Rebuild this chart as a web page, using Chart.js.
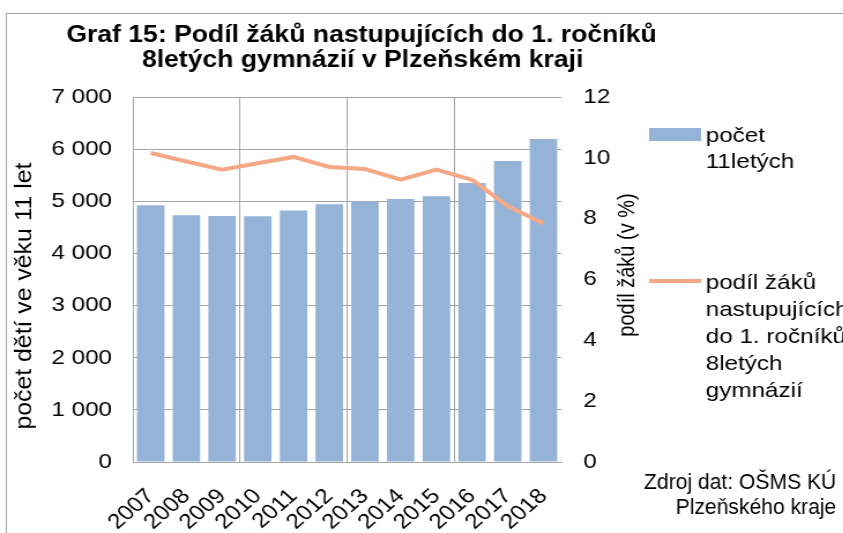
<!DOCTYPE html>
<html>
<head>
<meta charset="utf-8">
<script src="https://cdn.jsdelivr.net/npm/chart.js@4"></script>
<style>
  body { margin: 0; background: #fff; overflow: hidden; }
  #wrap { width: 730px; height: 533px; transform: scaleX(1.155); transform-origin: 0 0; }
  canvas { display: block; }
</style>
</head>
<body>
<div id="wrap"><canvas id="chart" width="730" height="533"></canvas></div>
<script>
// data
const years = ["2007", "2008", "2009", "2010", "2011", "2012", "2013", "2014", "2015", "2016", "2017", "2018"];
const pocet11letych = [4923, 4732, 4718, 4715, 4822, 4943, 4994, 5044, 5096, 5351, 5772, 6193];
const podilZaku = [10.16, 9.88, 9.61, 9.82, 10.03, 9.70, 9.63, 9.28, 9.61, 9.28, 8.41, 7.84];

const titleLines = ["Graf 15: Podíl žáků nastupujících do 1. ročníků", "8letých gymnázií v Plzeňském kraji"];
const leftAxisTitle = "počet dětí ve věku 11 let";
const rightAxisTitle = "podíl žáků (v %)";
const legendBar = ["počet", "11letých"];
const legendLine = ["podíl žáků", "nastupujících", "do 1. ročníků", "8letých", "gymnázií"];
const sourceLines = ["Zdroj dat: OŠMS KÚ", "Plzeňského kraje"];

const FONT = '"Liberation Sans", Arial, sans-serif';
const BAR_COLOR = "#95b3d7";
const LINE_COLOR = "#f4a886";
const GRID_COLOR = "#a6a6a6";

Chart.defaults.font.family = FONT;
Chart.defaults.color = "#000";

// the source picture is stretched sideways, so the canvas is drawn narrower
// and widened by the css transform on #wrap
const extras = {
  id: "extras",
  beforeDraw(chart) {
    const c = chart.ctx;
    c.save();
    c.strokeStyle = "#a0a0a0";
    c.lineWidth = 1;
    c.strokeRect(5.5, 13.5, 900, 600);
    c.restore();
  },
  afterDraw(chart) {
    const c = chart.ctx;
    c.save();
    c.fillStyle = "#000";
    c.textBaseline = "alphabetic";

    // title
    c.font = "bold 23px " + FONT;
    c.textAlign = "center";
    c.fillText(titleLines[0], 313, 42);
    c.fillText(titleLines[1], 314, 67);

    // axis titles
    c.textBaseline = "middle";
    c.font = "20px " + FONT;
    c.save();
    c.translate(21.5, 296);
    c.rotate(-Math.PI / 2);
    c.scale(1.24, 1);
    c.fillText(leftAxisTitle, 0, 0);
    c.restore();
    c.save();
    c.translate(543.5, 265);
    c.rotate(-Math.PI / 2);
    c.fillText(rightAxisTitle, 0, 0);
    c.restore();

    // legend
    c.font = "21px " + FONT;
    c.textAlign = "left";
    c.fillStyle = BAR_COLOR;
    c.fillRect(562, 128, 45, 13);
    c.fillStyle = "#000";
    legendBar.forEach((t, i) => c.fillText(t, 611, 136 + i * 26));

    c.strokeStyle = LINE_COLOR;
    c.lineWidth = 4;
    c.beginPath();
    c.moveTo(562, 281);
    c.lineTo(607, 281);
    c.stroke();
    legendLine.forEach((t, i) => c.fillText(t, 611, 283 + i * 27));

    // source (narrower than the rest in the picture)
    c.font = "22px " + FONT;
    c.textAlign = "right";
    c.textBaseline = "alphabetic";
    c.translate(724, 0);
    c.scale(0.83, 1);
    sourceLines.forEach((t, i) => c.fillText(t, 0, 489 + i * 25));
    c.restore();
  }
};

new Chart(document.getElementById("chart"), {
  data: {
    labels: years,
    datasets: [
      {
        type: "line",
        label: "podíl žáků nastupujících do 1. ročníků 8letých gymnázií",
        data: podilZaku,
        yAxisID: "y1",
        borderColor: LINE_COLOR,
        borderWidth: 4,
        pointRadius: 0,
        tension: 0,
        order: 0
      },
      {
        type: "bar",
        label: "počet 11letých",
        data: pocet11letych,
        yAxisID: "y",
        backgroundColor: BAR_COLOR,
        barPercentage: 0.77,
        categoryPercentage: 1,
        order: 1
      }
    ]
  },
  options: {
    responsive: false,
    animation: false,
    layout: { padding: { top: 97, right: 174, left: 0, bottom: 0 } },
    plugins: {
      legend: { display: false },
      title: { display: false },
      tooltip: { enabled: false }
    },
    scales: {
      x: {
        afterFit(s) { s.height = 71; },
        grid: {
          offset: true,
          drawTicks: false,
          color: ctx => (ctx.index % 3 === 0 ? GRID_COLOR : "rgba(0,0,0,0)")
        },
        border: { color: GRID_COLOR },
        ticks: { autoSkip: false, minRotation: 45, maxRotation: 45, padding: 22, font: { size: 21 } }
      },
      y: {
        position: "left",
        min: 0,
        max: 7000,
        afterFit(s) { s.width = 115; },
        grid: { color: GRID_COLOR, drawTicks: false },
        border: { color: GRID_COLOR },
        ticks: {
          stepSize: 1000,
          padding: 18,
          font: { size: 21 },
          callback: v => String(v).replace(/\B(?=(\d{3})+(?!\d))/g, " ")
        }
      },
      y1: {
        position: "right",
        min: 0,
        max: 12,
        afterFit(s) { s.width = 70; },
        grid: { display: false, drawTicks: false },
        border: { display: false },
        ticks: { stepSize: 2, padding: 19, font: { size: 21 } }
      }
    }
  },
  plugins: [extras]
});
</script>
</body>
</html>
